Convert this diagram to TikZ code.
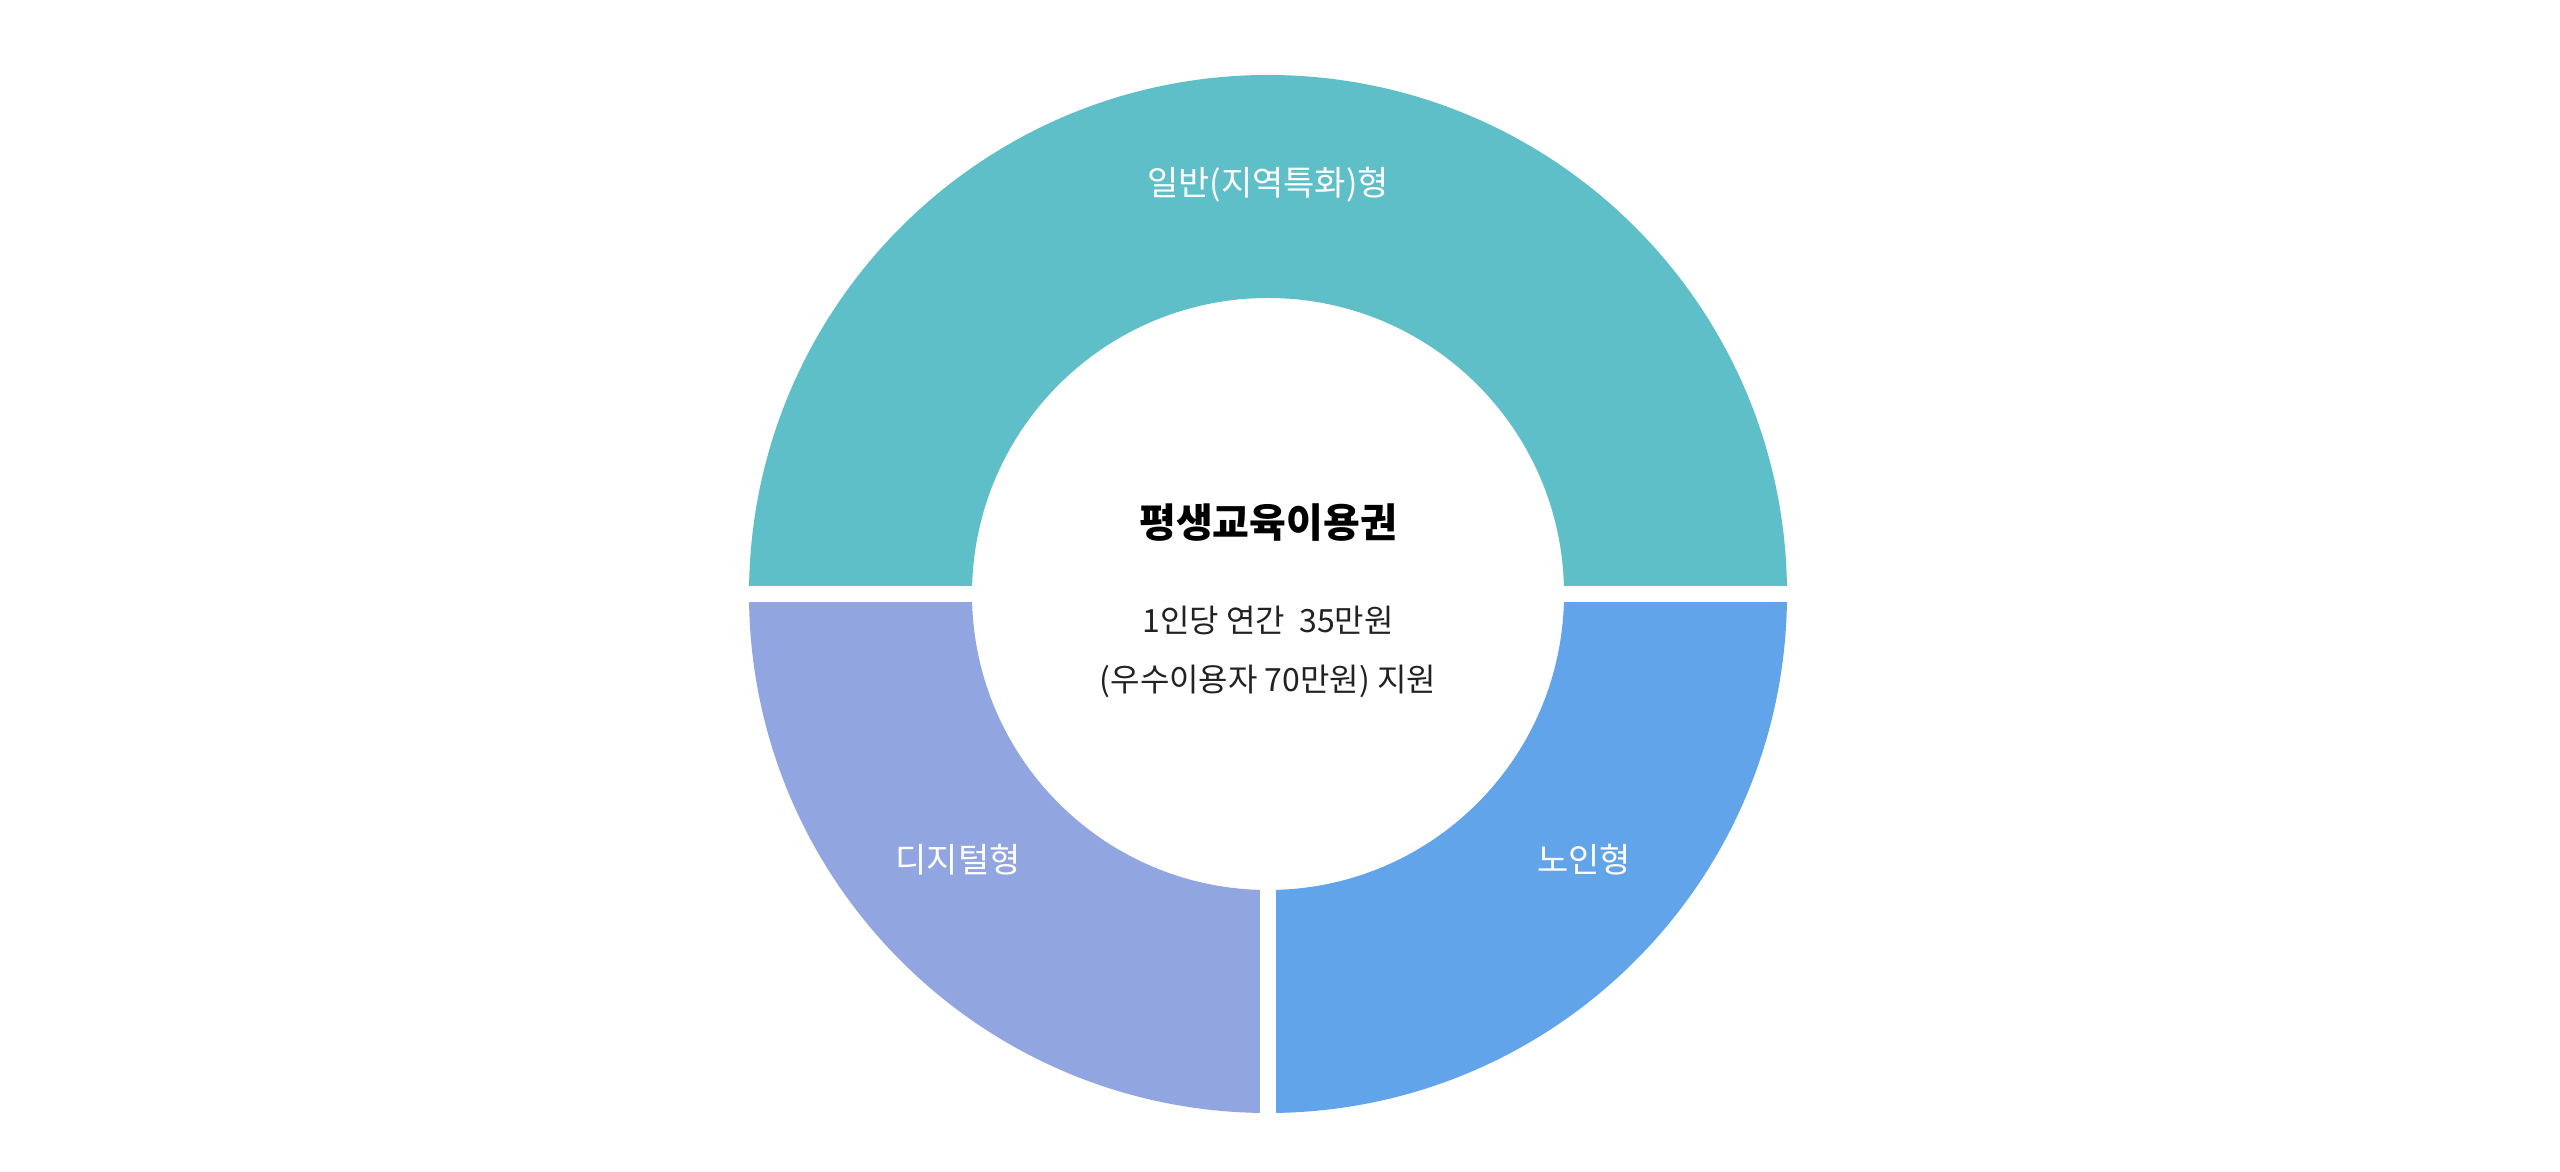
\documentclass[tikz,border=0pt]{standalone}
\usepackage{fontspec}
\usetikzlibrary{calc}
\setmainfont{Noto Sans CJK KR}
\definecolor{ctop}{HTML}{5FBFC9}
\definecolor{cleft}{HTML}{91A5E0}
\definecolor{cright}{HTML}{61A4EA}
\definecolor{ctext}{HTML}{222222}
\begin{document}
\begin{tikzpicture}[x=1pt,y=1pt,
  seglabel/.style={text=white,font=\fontsize{34}{40}\selectfont},
  gapstrip/.style={fill=white,draw=none}]
\useasboundingbox (0,0) rectangle (2560,1172);
\fill[white] (0,0) rectangle (2560,1172);
\coordinate (c) at (1268,578);
\fill[ctop] ($(c)+(519,0)$) arc[start angle=0,end angle=180,radius=519] -- ($(c)+(-296,0)$) arc[start angle=180,end angle=0,radius=296] -- cycle;
\fill[cleft] ($(c)+(-519,0)$) arc[start angle=180,end angle=270,radius=519] -- ($(c)+(0,-296)$) arc[start angle=270,end angle=180,radius=296] -- cycle;
\fill[cright] ($(c)+(0,-519)$) arc[start angle=270,end angle=360,radius=519] -- ($(c)+(296,0)$) arc[start angle=0,end angle=-90,radius=296] -- cycle;
\fill[gapstrip] ($(c)+(-530,-8)$) rectangle ($(c)+(530,8)$);
\fill[gapstrip] ($(c)+(-8,-530)$) rectangle ($(c)+(8,0)$);
\node[seglabel] (ltop) at (1268,987) {일반(지역특화)형};
\node[seglabel] (lleft) at (958,312) {디지털형};
\node[seglabel] (lright) at (1584,312) {노인형};
\node[text=black,font=\fontsize{40}{48}\selectfont\bfseries] (title) at (1268,649) {평생교육이용권};
\node[text=ctext,font=\fontsize{32}{40}\selectfont] (l1) at (1268,552) {1인당 연간~~35만원};
\node[text=ctext,font=\fontsize{32}{40}\selectfont] (l2) at (1268,491) {(우수이용자 70만원) 지원};
\end{tikzpicture}
\end{document}
